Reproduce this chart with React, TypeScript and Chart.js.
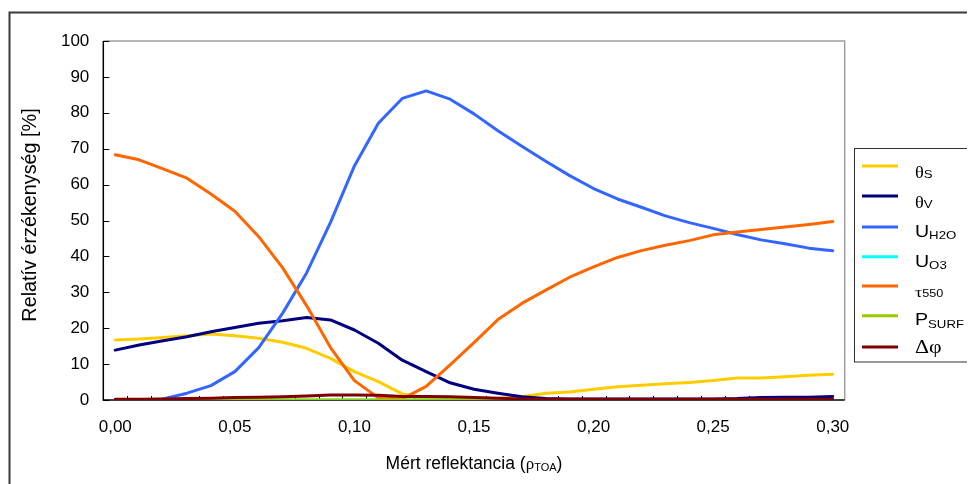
import React, { useEffect, useRef } from 'react';
import { Chart, registerables } from 'chart.js';

Chart.register(...registerables);

const categories = [
  '0,00', '0,01', '0,02', '0,03', '0,04', '0,05', '0,06', '0,07', '0,08', '0,09',
  '0,10', '0,11', '0,12', '0,13', '0,14', '0,15', '0,16', '0,17', '0,18', '0,19',
  '0,20', '0,21', '0,22', '0,23', '0,24', '0,25', '0,26', '0,27', '0,28', '0,29', '0,30',
];

const thetaS = [16.7, 17.0, 17.4, 17.9, 18.4, 17.9, 17.2, 16.1, 14.4, 11.6, 7.9, 5.1, 1.7, 0.5, 0.4, 0.4, 0.5, 0.9, 1.9, 2.2, 3.0, 3.7, 4.1, 4.5, 4.9, 5.4, 6.1, 6.1, 6.5, 6.9, 7.2];
const thetaV = [13.9, 15.3, 16.5, 17.6, 19.0, 20.2, 21.4, 22.1, 23.0, 22.3, 19.5, 15.8, 11.1, 7.9, 4.8, 3.0, 1.9, 0.9, 0.4, 0.3, 0.3, 0.3, 0.3, 0.3, 0.3, 0.3, 0.4, 0.7, 0.8, 0.8, 1.0];
const uH2O = [0.0, 0.0, 0.3, 1.9, 4.0, 7.9, 14.6, 24.2, 35.4, 49.5, 65.2, 77.1, 84.0, 86.1, 83.8, 79.7, 75.0, 70.7, 66.5, 62.5, 58.9, 56.0, 53.7, 51.3, 49.4, 47.8, 46.1, 44.6, 43.5, 42.3, 41.6];
const uO3 = [0.0, 0.0, 0.0, 0.0, 0.0, 0.0, 0.0, 0.0, 0.0, 0.0, 0.0, 0.0, 0.0, 0.0, 0.0, 0.0, 0.0, 0.0, 0.0, 0.0, 0.0, 0.0, 0.0, 0.0, 0.0, 0.0, 0.0, 0.0, 0.0, 0.0, 0.0];
const tau550 = [68.3, 66.9, 64.4, 61.8, 57.4, 52.6, 45.5, 36.8, 26.3, 14.6, 5.4, 0.6, 0.3, 3.8, 9.8, 16.0, 22.4, 26.9, 30.6, 34.2, 37.1, 39.7, 41.6, 43.1, 44.4, 46.0, 46.8, 47.5, 48.2, 48.9, 49.7];
const pSurf = [0.0, 0.0, 0.0, 0.0, 0.0, 0.0, 0.0, 0.0, 0.0, 0.0, 0.0, 0.0, 0.0, 0.0, 0.0, 0.0, 0.0, 0.0, 0.0, 0.0, 0.0, 0.0, 0.0, 0.0, 0.0, 0.0, 0.0, 0.0, 0.0, 0.0, 0.0];
const dPhi = [0.2, 0.2, 0.3, 0.4, 0.5, 0.7, 0.8, 0.9, 1.1, 1.4, 1.4, 1.3, 1.0, 1.0, 0.9, 0.7, 0.5, 0.3, 0.2, 0.2, 0.2, 0.2, 0.2, 0.2, 0.2, 0.2, 0.2, 0.2, 0.2, 0.2, 0.2];

const yTicks = [0, 10, 20, 30, 40, 50, 60, 70, 80, 90, 100];

type Run = { t: string; font: string; dy?: number };

const SANS = '"Liberation Sans", Arial, sans-serif';
const SERIF = '"Liberation Serif", "Times New Roman", serif';

const seriesDefs: { name: string; data: number[]; color: string; label: Run[] }[] = [
  { name: 'θS', data: thetaS, color: '#FFCC00', label: [{ t: 'θ', font: `16px ${SERIF}` }, { t: 'S', font: `11.5px ${SANS}`, dy: 0.6 }] },
  { name: 'θV', data: thetaV, color: '#000080', label: [{ t: 'θ', font: `16px ${SERIF}` }, { t: 'V', font: `11.5px ${SANS}`, dy: 0.6 }] },
  { name: 'UH2O', data: uH2O, color: '#3366FF', label: [{ t: 'U', font: `17px ${SANS}` }, { t: 'H2O', font: `11.5px ${SANS}`, dy: 2.5 }] },
  { name: 'UO3', data: uO3, color: '#00FFFF', label: [{ t: 'U', font: `17px ${SANS}` }, { t: 'O3', font: `11.5px ${SANS}`, dy: 2.5 }] },
  { name: 'τ550', data: tau550, color: '#FF6600', label: [{ t: 'τ', font: `15.5px ${SERIF}` }, { t: '550', font: `11px ${SANS}` }] },
  { name: 'PSURF', data: pSurf, color: '#99CC00', label: [{ t: 'P', font: `17px ${SANS}` }, { t: 'SURF', font: `11.5px ${SANS}`, dy: 2.5 }] },
  { name: 'Δφ', data: dPhi, color: '#800000', label: [{ t: 'Δφ', font: `19px ${SERIF}` }] },
];

// legend row layout (canvas coords): line y, text baseline
const legendRows = [
  { ly: 158, by: 169.7 },
  { ly: 188, by: 199.7 },
  { ly: 219, by: 228.7 },
  { ly: 248.7, by: 258.7 },
  { ly: 278, by: 289.3 },
  { ly: 307.7, by: 317 },
  { ly: 339, by: 345.3 },
];

function drawRuns(ctx: CanvasRenderingContext2D, x: number, y: number, runs: Run[]) {
  let cx = x;
  for (const r of runs) {
    ctx.font = r.font;
    ctx.fillText(r.t, cx, y + (r.dy || 0));
    cx += ctx.measureText(r.t).width;
  }
  return cx;
}

function runsWidth(ctx: CanvasRenderingContext2D, runs: Run[]) {
  let w = 0;
  for (const r of runs) {
    ctx.font = r.font;
    w += ctx.measureText(r.t).width;
  }
  return w;
}

const decorPlugin = {
  id: 'decor',
  beforeDraw(chart: any) {
    const ctx: CanvasRenderingContext2D = chart.ctx;
    ctx.save();
    ctx.fillStyle = '#ffffff';
    ctx.fillRect(0, 0, chart.width, chart.height);
    ctx.strokeStyle = '#3a3a3a';
    ctx.lineWidth = 2;
    ctx.strokeRect(1.5, 4.5, chart.width + 40, chart.height + 40);
    ctx.restore();
  },
  beforeDatasetsDraw(chart: any) {
    const ctx: CanvasRenderingContext2D = chart.ctx;
    const a = chart.chartArea;
    const x = chart.scales.x;
    const y = chart.scales.y;
    ctx.save();
    // top & right border (gray)
    ctx.strokeStyle = '#a0a0a0';
    ctx.lineWidth = 1.5;
    ctx.beginPath();
    ctx.moveTo(a.left, a.top);
    ctx.lineTo(a.right, a.top);
    ctx.lineTo(a.right, a.bottom);
    ctx.stroke();
    // axes (black)
    ctx.strokeStyle = '#000000';
    ctx.lineWidth = 1.5;
    ctx.beginPath();
    ctx.moveTo(a.left, a.top);
    ctx.lineTo(a.left, a.bottom);
    ctx.lineTo(a.right, a.bottom);
    ctx.stroke();
    // y ticks inside
    ctx.lineWidth = 1;
    ctx.beginPath();
    y.ticks.forEach((_t: any, i: number) => {
      const py = Math.round(y.getPixelForTick(i)) + 0.5;
      ctx.moveTo(a.left, py);
      ctx.lineTo(a.left + 6, py);
    });
    // x ticks between categories, inside
    for (let i = 1; i < categories.length; i++) {
      const px = Math.round(x.getPixelForValue(i - 0.5)) + 0.5;
      ctx.moveTo(px, a.bottom);
      ctx.lineTo(px, a.bottom - 4);
    }
    ctx.stroke();
    ctx.restore();
  },
  afterDraw(chart: any) {
    const ctx: CanvasRenderingContext2D = chart.ctx;
    const a = chart.chartArea;
    ctx.save();
    ctx.fillStyle = '#000000';
    ctx.textBaseline = 'alphabetic';
    ctx.textAlign = 'left';

    // x axis title
    const xt: Run[] = [
      { t: 'Mért reflektancia (', font: `17.5px ${SANS}` },
      { t: 'ρ', font: `17px ${SERIF}` },
      { t: 'TOA', font: `11px ${SANS}`, dy: 1.7 },
      { t: ')', font: `17.5px ${SANS}` },
    ];
    const xw = runsWidth(ctx, xt);
    drawRuns(ctx, (a.left + a.right) / 2 - xw / 2, 461.3, xt);

    // y axis title
    ctx.save();
    ctx.translate(27.5, 207);
    ctx.rotate(-Math.PI / 2);
    ctx.font = `19.8px ${SANS}`;
    ctx.textAlign = 'center';
    ctx.fillText('Relatív érzékenység [%]', 0, 0);
    ctx.restore();

    // legend
    ctx.strokeStyle = '#303030';
    ctx.lineWidth = 1;
    ctx.strokeRect(846.5, 140.5, 119.5, 213.5);
    seriesDefs.forEach((s, i) => {
      const r = legendRows[i];
      ctx.strokeStyle = s.color;
      ctx.lineWidth = 3;
      ctx.beginPath();
      ctx.moveTo(854, r.ly);
      ctx.lineTo(890, r.ly);
      ctx.stroke();
      ctx.fillStyle = '#000000';
      ctx.save();
      ctx.translate(907, r.by);
      ctx.scale(1.15, 1);
      drawRuns(ctx, 0, 0, s.label);
      ctx.restore();
    });
    ctx.restore();
  },
};

export default function App() {
  const ref = useRef<HTMLCanvasElement | null>(null);
  useEffect(() => {
    if (!ref.current) return;
    const n = seriesDefs.length;
    const chart = new Chart(ref.current, {
      type: 'line',
      data: {
        labels: categories,
        datasets: seriesDefs.map((s, i) => ({
          label: s.name,
          data: s.data,
          borderColor: s.color,
          backgroundColor: s.color,
          borderWidth: 3,
          pointRadius: 0,
          pointHoverRadius: 0,
          tension: 0,
          borderJoinStyle: 'round' as const,
          borderCapStyle: 'round' as const,
          order: n - 1 - i,
          fill: false,
        })),
      },
      options: {
        responsive: false,
        animation: false,
        devicePixelRatio: 1,
        layout: { padding: { left: 0, top: 33, right: 130.3, bottom: 0 } },
        plugins: {
          legend: { display: false },
          tooltip: { enabled: false },
          title: { display: false },
        },
        scales: {
          x: {
            type: 'category',
            offset: true,
            grid: { display: false, offset: true },
            border: { display: false },
            ticks: {
              autoSkip: false,
              maxRotation: 0,
              minRotation: 0,
              padding: 9.5,
              color: '#000000',
              font: { family: SANS, size: 17 },
              callback: (_v: any, i: number) => (i % 5 === 0 ? categories[i] : ''),
            },
            afterFit: (scale: any) => {
              scale.height = 84;
            },
          },
          y: {
            type: 'linear',
            min: 0,
            max: 100,
            afterBuildTicks: (scale: any) => {
              scale.ticks = yTicks.map((v) => ({ value: v }));
            },
            grid: { display: false },
            border: { display: false },
            ticks: {
              padding: 6,
              color: '#000000',
              font: { family: SANS, size: 17 },
            },
            afterFit: (scale: any) => {
              scale.width = 95.3;
            },
          },
        },
      },
      plugins: [decorPlugin],
    });
    return () => chart.destroy();
  }, []);
  return (
    <div style={{ width: 967, height: 476 }}>
      <canvas ref={ref} width={967} height={476} style={{ display: 'block' }} />
    </div>
  );
}
